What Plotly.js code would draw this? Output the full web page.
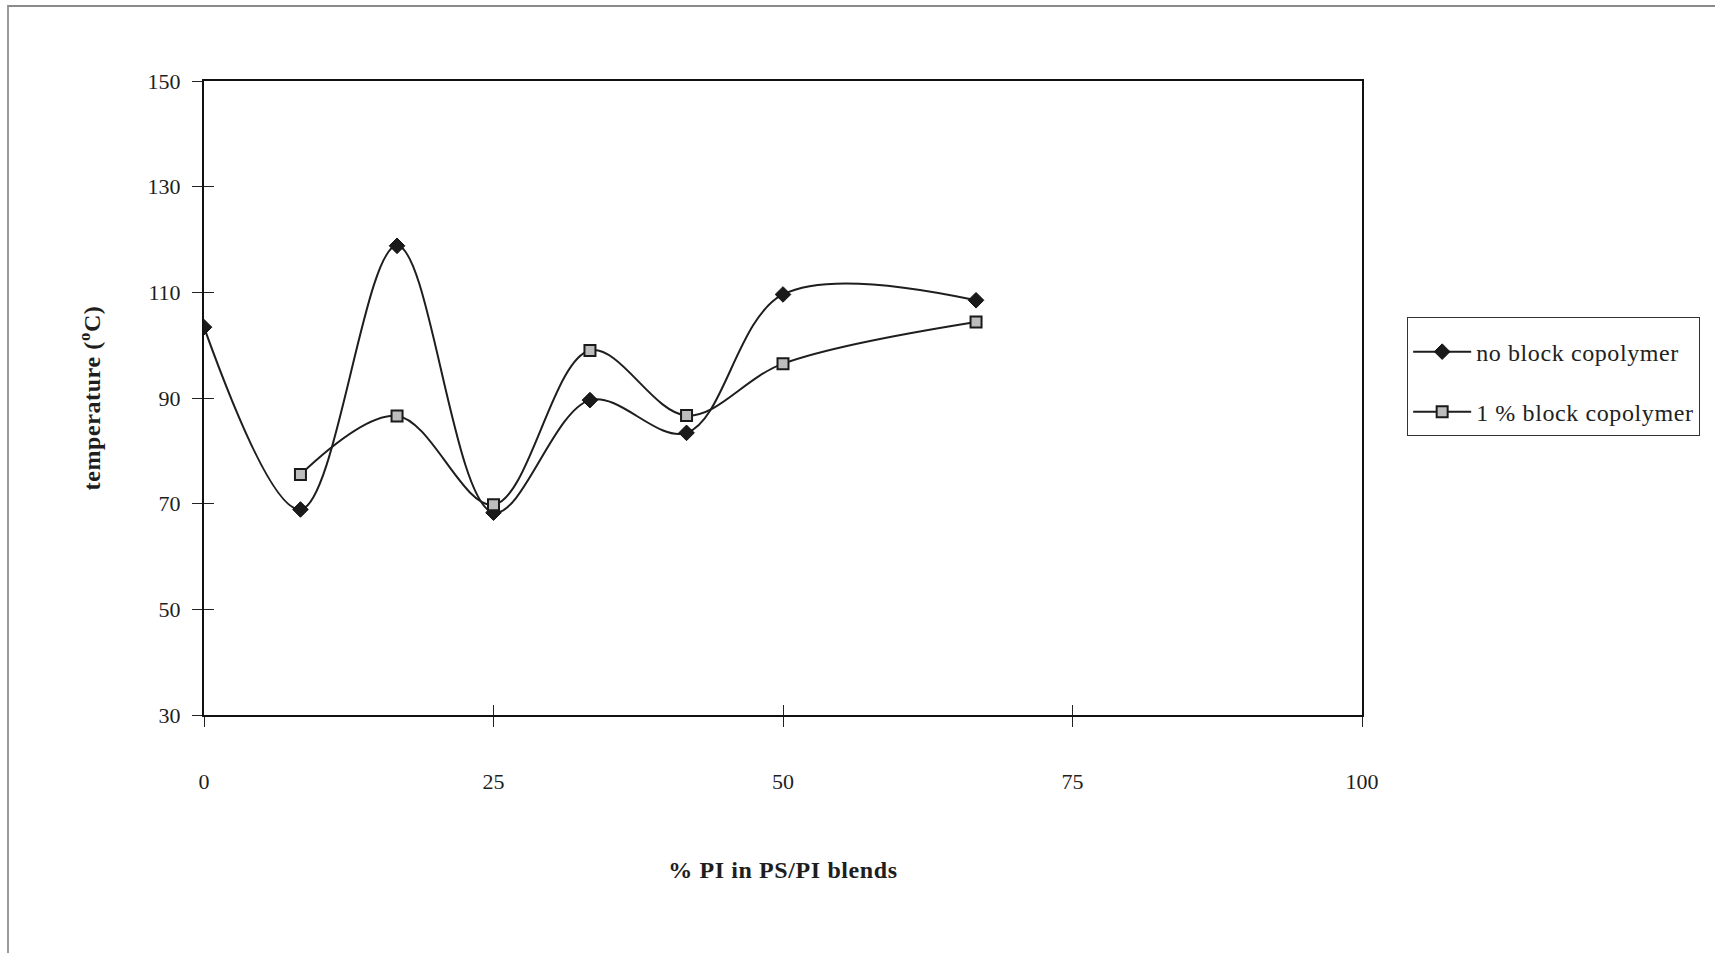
<!DOCTYPE html>
<html>
<head>
<meta charset="utf-8">
<script src="https://cdn.plot.ly/plotly-3.0.1.min.js"></script>
<style>
html, body { margin: 0; padding: 0; background: #fff; }
#frame { position: absolute; left: 7px; top: 5px; width: 1708px; height: 948px; border-top: 2px solid #8a8a8a; border-left: 2px solid #9a9a9a; pointer-events: none; z-index: 5; }
#chart { width: 1715px; height: 953px; }
.xtitle, .ytitle { letter-spacing: 0.6px; }
.legendtext { letter-spacing: 0.6px; }
</style>
</head>
<body>
<div id="frame"></div>
<div id="chart"></div>
<script>
// Data
const xNoBlock = [0, 8.33, 16.67, 25, 33.33, 41.67, 50, 66.67];
const yNoBlock = [103.4, 68.9, 118.8, 68.3, 89.6, 83.4, 109.6, 108.5];
const xOneBlock = [8.33, 16.67, 25, 33.33, 41.67, 50, 66.67];
const yOneBlock = [75.5, 86.6, 69.8, 99.0, 86.7, 96.5, 104.4];
const seriesNames = ["no block copolymer", "1 % block copolymer"];
const xTicks = [0, 25, 50, 75, 100];
const yTicks = [30, 50, 70, 90, 110, 130, 150];

const serif = "Liberation Serif, Times New Roman, serif";
const ink = "#1e1e1e";

const traces = [
  {
    x: xNoBlock, y: yNoBlock, name: seriesNames[0], type: "scatter", mode: "lines+markers",
    legendgroup: "a",
    line: { color: ink, width: 2, shape: "spline", smoothing: 1 },
    marker: { symbol: "diamond", size: 12, color: "#1a1a1a", line: { color: "#111", width: 1 } }
  },
  {
    x: xOneBlock, y: yOneBlock, name: seriesNames[1], type: "scatter", mode: "lines+markers",
    legendgroup: "b",
    line: { color: ink, width: 2, shape: "spline", smoothing: 1 },
    marker: { symbol: "square", size: 11, color: "#bdbdbd", line: { color: "#1a1a1a", width: 2 } }
  },
  // empty helper trace so the overlay axes (inner half of the crossing ticks) are drawn
  { x: [], y: [], xaxis: "x2", yaxis: "y2", type: "scatter", mode: "markers", showlegend: false, hoverinfo: "skip" }
];

const layout = {
  width: 1715, height: 953,
  paper_bgcolor: "#fff", plot_bgcolor: "#fff",
  margin: { l: 204, r: 353, t: 81, b: 238 },
  font: { family: serif, color: ink, size: 22 },
  showlegend: true,
  legend: {
    x: 1.039, xanchor: "left", y: 0.628, yanchor: "top",
    bgcolor: "#fff", bordercolor: "#333", borderwidth: 1,
    font: { family: serif, size: 24, color: "#222" },
    title: { text: " ", font: { size: 9 } },
    traceorder: "grouped", tracegroupgap: 26, itemwidth: 58
  },
  xaxis: {
    range: [0, 100], tickvals: xTicks, ticktext: xTicks.map(String),
    ticks: "outside", ticklen: 10, tickwidth: 1, tickcolor: "#222",
    showline: true, linecolor: "#111", linewidth: 2, mirror: true,
    showgrid: false, zeroline: false,
    ticklabelstandoff: 36,
    tickfont: { family: serif, size: 22, color: ink },
    title: { text: "<b>% PI in PS/PI blends</b>", font: { family: serif, size: 24, color: ink }, standoff: 68 }
  },
  yaxis: {
    range: [30, 150], tickvals: yTicks, ticktext: yTicks.map(String),
    ticks: "outside", ticklen: 10, tickwidth: 1, tickcolor: "#222",
    showline: true, linecolor: "#111", linewidth: 2, mirror: true,
    showgrid: false, zeroline: false,
    ticklabelstandoff: 7,
    tickfont: { family: serif, size: 22, color: ink },
    title: { text: "<b>temperature (<sup>o</sup>C)</b>", font: { family: serif, size: 24, color: ink }, standoff: 40 }
  },
  xaxis2: {
    overlaying: "x", anchor: "y", side: "bottom", range: [0, 100], tickvals: xTicks,
    ticks: "inside", ticklen: 10, tickwidth: 1, tickcolor: "#222",
    showticklabels: false, showgrid: false, zeroline: false, showline: false
  },
  yaxis2: {
    overlaying: "y", anchor: "x", side: "left", range: [30, 150], tickvals: yTicks,
    ticks: "inside", ticklen: 10, tickwidth: 1, tickcolor: "#222",
    showticklabels: false, showgrid: false, zeroline: false, showline: false
  }
};

Plotly.newPlot("chart", traces, layout, { displayModeBar: false, staticPlot: true });
</script>
</body>
</html>
